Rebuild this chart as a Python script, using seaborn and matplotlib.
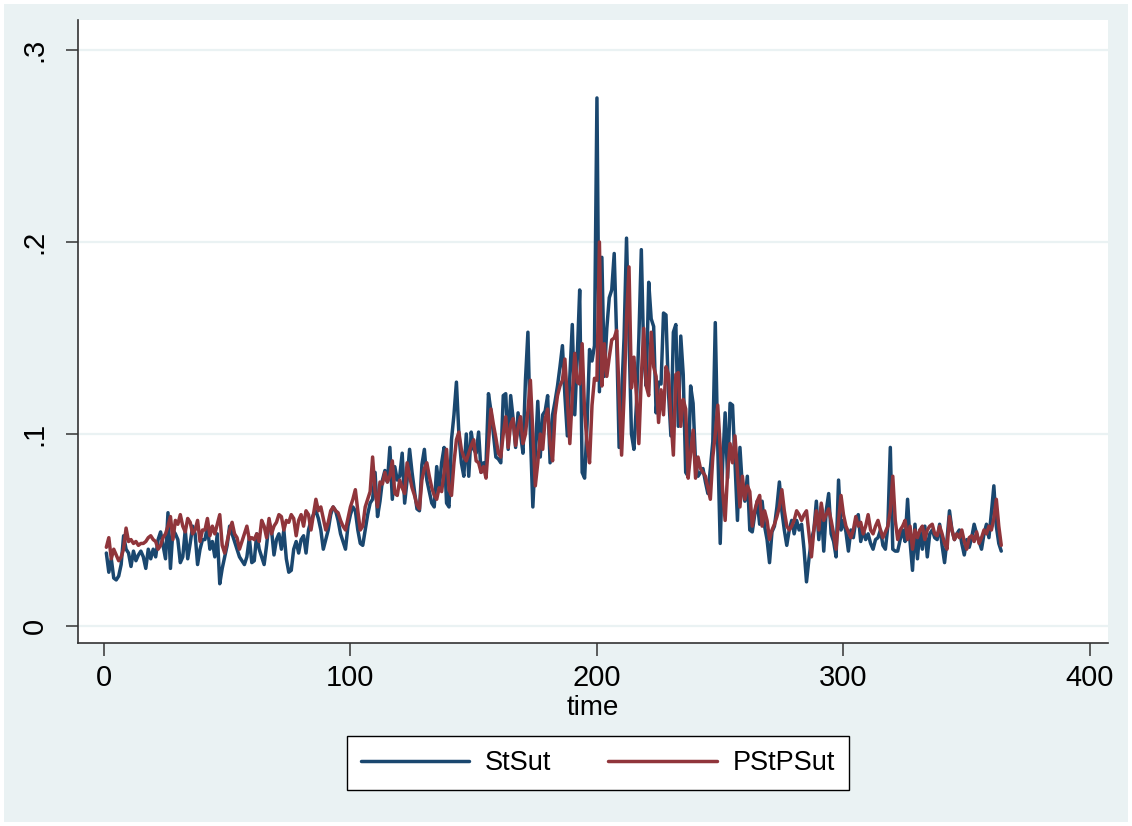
import numpy as np
import pandas as pd
import matplotlib.pyplot as plt
import seaborn as sns
from matplotlib.lines import Line2D
from matplotlib.patches import Rectangle

# StSut, t = 1..364
stsut = [
    0.038, 0.028, 0.035, 0.025, 0.024, 0.026, 0.032, 0.047, 0.040, 0.038,
    0.031, 0.039, 0.034, 0.037, 0.039, 0.036, 0.030, 0.040, 0.035, 0.040,
    0.036, 0.045, 0.049, 0.042, 0.035, 0.059, 0.030, 0.050, 0.048, 0.045,
    0.033, 0.036, 0.050, 0.035, 0.043, 0.052, 0.048, 0.032, 0.040, 0.045,
    0.045, 0.052, 0.040, 0.044, 0.036, 0.048, 0.022, 0.030, 0.036, 0.042,
    0.052, 0.048, 0.044, 0.040, 0.036, 0.034, 0.032, 0.036, 0.046, 0.033,
    0.034, 0.048, 0.040, 0.036, 0.032, 0.042, 0.054, 0.050, 0.037, 0.045,
    0.048, 0.040, 0.050, 0.035, 0.028, 0.029, 0.040, 0.044, 0.038, 0.045,
    0.047, 0.038, 0.050, 0.055, 0.058, 0.060, 0.056, 0.050, 0.040, 0.045,
    0.050, 0.058, 0.062, 0.060, 0.055, 0.048, 0.044, 0.040, 0.052, 0.058,
    0.062, 0.060, 0.050, 0.043, 0.042, 0.050, 0.058, 0.064, 0.066, 0.080,
    0.057, 0.065, 0.076, 0.081, 0.075, 0.093,
    0.066, 0.083, 0.076, 0.078, 0.090, 0.064, 0.076, 0.092, 0.080, 0.070,
    0.061, 0.060, 0.084, 0.092, 0.076, 0.070, 0.064, 0.062, 0.083, 0.071,
    0.085, 0.093, 0.064, 0.062, 0.097, 0.110, 0.127, 0.100, 0.085, 0.078,
    0.100, 0.078, 0.101, 0.092, 0.090, 0.101, 0.080, 0.085,
    0.084, 0.121, 0.112, 0.100, 0.088, 0.087, 0.085, 0.120, 0.121, 0.092,
    0.120, 0.108, 0.093, 0.111, 0.100, 0.090, 0.128, 0.153, 0.100, 0.062,
    0.090, 0.117, 0.088, 0.110, 0.112, 0.120, 0.085, 0.110, 0.117, 0.125,
    0.135, 0.146, 0.120, 0.099, 0.130, 0.157, 0.110, 0.140, 0.175, 0.080,
    0.077, 0.105, 0.144, 0.138, 0.146, 0.275, 0.122, 0.192, 0.130, 0.155,
    0.171, 0.175, 0.194, 0.150, 0.093, 0.120, 0.150, 0.202, 0.150, 0.100,
    0.092,
    0.115, 0.150, 0.196, 0.140, 0.125, 0.179, 0.160, 0.156, 0.111, 0.127,
    0.126, 0.163, 0.162, 0.122, 0.099, 0.153, 0.157, 0.104, 0.151, 0.131,
    0.080, 0.078, 0.125, 0.116, 0.085, 0.078, 0.080, 0.082, 0.075, 0.069,
    0.082, 0.096, 0.158, 0.094,
    0.043, 0.085, 0.111, 0.077, 0.116, 0.115, 0.085, 0.055, 0.093, 0.072,
    0.065, 0.078, 0.050, 0.049, 0.058, 0.065, 0.053, 0.065, 0.052, 0.045,
    0.033, 0.049, 0.052, 0.062, 0.075, 0.060, 0.050, 0.042, 0.050, 0.055,
    0.048, 0.055, 0.050,
    0.053, 0.040, 0.023, 0.035, 0.045, 0.050, 0.065, 0.045, 0.062, 0.039,
    0.060, 0.069, 0.048, 0.044, 0.036, 0.076, 0.050, 0.055, 0.049, 0.039,
    0.050, 0.046, 0.055, 0.058, 0.044, 0.050, 0.045, 0.048, 0.043, 0.040,
    0.045, 0.046, 0.050,
    0.042, 0.040, 0.052, 0.093, 0.040, 0.039, 0.039, 0.045, 0.050, 0.044,
    0.066, 0.044, 0.029, 0.053, 0.035, 0.050, 0.040, 0.052, 0.036, 0.048,
    0.050, 0.046, 0.045, 0.053, 0.042, 0.033, 0.045, 0.060, 0.050, 0.045,
    0.048, 0.050,
    0.043, 0.037, 0.045, 0.041, 0.046, 0.053, 0.048, 0.044, 0.040, 0.048,
    0.053, 0.046, 0.059, 0.073, 0.052, 0.043, 0.039,
]

# PStPSut, t = 1..364
pstpsut = [
    0.041, 0.046, 0.035, 0.040, 0.037, 0.034, 0.036, 0.040, 0.051, 0.044,
    0.045, 0.043, 0.044, 0.042, 0.043, 0.043, 0.044, 0.046, 0.047, 0.045,
    0.044, 0.040, 0.042, 0.046, 0.048, 0.052, 0.057, 0.045, 0.055, 0.053,
    0.058, 0.052, 0.049, 0.056, 0.054, 0.048, 0.050, 0.055, 0.044, 0.050,
    0.050, 0.056, 0.047, 0.052, 0.048, 0.053, 0.058, 0.042, 0.038, 0.044,
    0.050, 0.054, 0.048, 0.046, 0.040, 0.044, 0.048, 0.052, 0.045, 0.046,
    0.045, 0.048, 0.044, 0.055, 0.052, 0.046, 0.056, 0.048, 0.052, 0.054,
    0.058, 0.057, 0.050, 0.055, 0.054, 0.058, 0.056, 0.047, 0.055, 0.058,
    0.052, 0.060, 0.058, 0.050, 0.058, 0.066, 0.060, 0.062, 0.056, 0.050,
    0.054, 0.060, 0.062, 0.060, 0.059, 0.055, 0.052, 0.050, 0.056, 0.062,
    0.066, 0.071, 0.060, 0.050, 0.052, 0.062, 0.066, 0.070, 0.088, 0.070,
    0.062, 0.075, 0.074, 0.080, 0.075, 0.078,
    0.086, 0.069, 0.068, 0.076, 0.072, 0.069, 0.085, 0.078, 0.072, 0.068,
    0.063, 0.061, 0.076, 0.082, 0.085, 0.078, 0.072, 0.068, 0.066, 0.072,
    0.070, 0.080, 0.092, 0.071, 0.068, 0.085, 0.097, 0.101, 0.092, 0.088,
    0.086, 0.090, 0.094, 0.097, 0.086, 0.085, 0.080, 0.083,
    0.077, 0.095, 0.113, 0.105, 0.098, 0.090, 0.088, 0.100, 0.109, 0.093,
    0.105, 0.108, 0.094, 0.103, 0.109, 0.095, 0.100, 0.112, 0.128, 0.100,
    0.073, 0.085, 0.100, 0.092, 0.108, 0.113, 0.095, 0.086, 0.110, 0.120,
    0.125, 0.128, 0.139, 0.118, 0.095, 0.120, 0.142, 0.127, 0.126, 0.147,
    0.111, 0.095, 0.085, 0.115, 0.129, 0.128, 0.200, 0.125, 0.147, 0.130,
    0.140, 0.149, 0.150, 0.154, 0.120, 0.089, 0.120, 0.160, 0.187, 0.124,
    0.140,
    0.120, 0.095, 0.130, 0.155, 0.125, 0.120, 0.153, 0.135, 0.130, 0.106,
    0.123, 0.110, 0.135, 0.131, 0.108, 0.089, 0.131, 0.132, 0.104, 0.118,
    0.113, 0.077, 0.090, 0.102, 0.077, 0.088, 0.082, 0.080, 0.078, 0.072,
    0.066, 0.088, 0.100, 0.115,
    0.093, 0.070, 0.055, 0.080, 0.095, 0.085, 0.099, 0.080, 0.062, 0.078,
    0.066, 0.073, 0.070, 0.052, 0.060, 0.065, 0.068, 0.052, 0.060, 0.055,
    0.045, 0.050, 0.053, 0.057, 0.062, 0.071, 0.060, 0.052, 0.050, 0.052,
    0.055, 0.060, 0.058,
    0.055, 0.058, 0.060, 0.048, 0.036, 0.050, 0.060, 0.050, 0.064, 0.055,
    0.058, 0.061, 0.055, 0.048, 0.040, 0.055, 0.068, 0.058, 0.052, 0.049,
    0.046, 0.050, 0.057, 0.052, 0.054, 0.048, 0.052, 0.058, 0.050, 0.048,
    0.052, 0.055, 0.050,
    0.046, 0.049, 0.052, 0.060, 0.078, 0.055, 0.045, 0.050, 0.052, 0.055,
    0.045, 0.052, 0.040, 0.050, 0.046, 0.050, 0.052, 0.045, 0.050, 0.052,
    0.053, 0.048, 0.047, 0.052, 0.048, 0.043, 0.040, 0.057, 0.050, 0.045,
    0.048, 0.046,
    0.050, 0.044, 0.040, 0.046, 0.047, 0.044, 0.049, 0.043, 0.046, 0.050,
    0.048, 0.052, 0.050, 0.056, 0.066, 0.052, 0.042,
]

assert len(stsut) == 364 and len(pstpsut) == 364
time = list(range(1, len(stsut) + 1))

series_names = ['StSut', 'PStPSut']
colors = {'StSut': '#1a476f', 'PStPSut': '#90353b'}

df = pd.DataFrame({
    'time': time + time,
    'value': stsut + pstpsut,
    'series': [series_names[0]] * len(stsut) + [series_names[1]] * len(pstpsut),
})

sns.set_style('white')
plt.rcParams['font.family'] = ['Liberation Sans', 'DejaVu Sans']

W, H = 1132, 826
fig = plt.figure(figsize=(W / 100, H / 100), dpi=100, facecolor='white')
fig.add_artist(Rectangle((4 / W, 4 / H), 1 - 8 / W, 1 - 8 / H, transform=fig.transFigure,
                         facecolor='#eaf2f3', edgecolor='none', zorder=-10))

ax = fig.add_axes([78 / W, 1 - 643 / H, 1030 / W, 623 / H])
ax.set_facecolor('white')

sns.lineplot(data=df, x='time', y='value', hue='series', hue_order=series_names,
             palette=colors, linewidth=2.5, estimator=None, legend=False, ax=ax)

ax.set_xlim(-10.5, 407.3)
ax.set_ylim(-0.00885, 0.3156)
ax.set_xticks([0, 100, 200, 300, 400])
ax.set_yticks([0, 0.1, 0.2, 0.3])
ax.set_yticklabels(['0', '.1', '.2', '.3'], rotation=90, va='center')
ax.yaxis.grid(True, color='#eaf2f3', linewidth=1.6)
ax.set_axisbelow(True)

for s in ['top', 'right']:
    ax.spines[s].set_visible(False)
for s in ['left', 'bottom']:
    ax.spines[s].set_color('#333333')
    ax.spines[s].set_linewidth(1.2)

ax.tick_params(axis='both', direction='out', length=9, width=1.1, color='#333333',
               labelsize=21, labelcolor='black', left=True, bottom=True)
ax.tick_params(axis='y', pad=12)
ax.tick_params(axis='x', pad=6)
ax.set_xlabel('time', fontsize=20, labelpad=2, color='black')
ax.set_ylabel('')

handles = [Line2D([], [], color=colors[n], linewidth=2.5) for n in series_names]
leg = fig.legend(handles, series_names, loc='center', bbox_to_anchor=(598 / W, 1 - 763 / H),
                 ncol=2, fontsize=19.5, frameon=True, fancybox=False, framealpha=1,
                 handlelength=4.0, handletextpad=0.6, columnspacing=2.1, borderpad=0.5,
                 labelcolor='black')
leg.get_frame().set_facecolor('white')
leg.get_frame().set_edgecolor('black')
leg.get_frame().set_linewidth(1.0)

fig.savefig('out.png', dpi=100, facecolor=fig.get_facecolor())
